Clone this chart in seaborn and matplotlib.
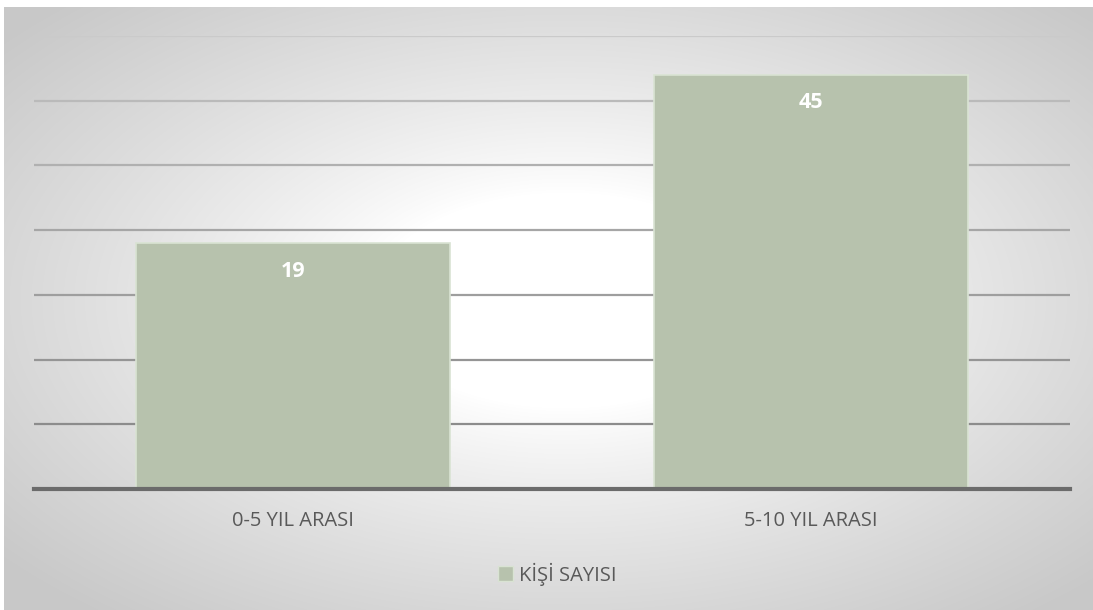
import numpy as np
import matplotlib
matplotlib.use("Agg")
import matplotlib.pyplot as plt
import seaborn as sns
import pandas as pd
from matplotlib.patches import Patch

# ---- data ----
categories = ["0-5 YIL ARASI", "5-10 YIL ARASI"]
values = [19, 45]
series_name = "KİŞİ SAYISI"

# ---- style ----
sns.set_theme(style="white")
plt.rcParams['font.family'] = ['Open Sans', 'DejaVu Sans']

W, H, DPI = 1093, 610, 100
fig = plt.figure(figsize=(W / DPI, H / DPI), dpi=DPI)

# radial gradient background
bg = fig.add_axes([0, 0, 1, 1], zorder=-10)
yy, xx = np.mgrid[0:H, 0:W]
cx, cy = 565, 300
d = np.sqrt(((xx - cx) / (W / 2)) ** 2 + ((yy - cy) / (H / 2)) ** 2) / np.sqrt(2)
t = np.clip((d - 0.25) / 0.7, 0, 1) ** 0.85
g = 1.0 - (1.0 - 0.785) * t
img = np.dstack([g, g, g])
img[:7, :, :] = 1.0
img[:, :4, :] = 1.0
bg.imshow(img, extent=(0, W, H, 0), aspect='auto', interpolation='bilinear')
bg.set_axis_off()

ax = fig.add_axes([34 / W, 1 - 489 / H, (1070 - 34) / W, (489 - 36) / H])
ax.set_facecolor('none')

df = pd.DataFrame({"cat": categories, "val": values})
bar_color = '#b7c2ad'
sns.barplot(data=df, x="cat", y="val", ax=ax, color=bar_color, width=0.606,
            edgecolor='#d9e3d3', linewidth=1.2, saturation=1, zorder=3)

ymin, ymax = -19, 51
ax.set_ylim(ymin, ymax)
ax.set_xlim(-0.5, 1.5)
# bars rise from the category axis
for p, v in zip(ax.patches, values):
    p.set_y(ymin)
    p.set_height(v - ymin)

ticks = list(range(ymin + 10, ymax + 1, 10))
ax.set_yticks(ticks)
ax.set_yticklabels([])
ax.tick_params(axis='y', length=0)
ax.tick_params(axis='x', length=0, pad=16, labelsize=14.5, labelcolor='#595959')
grid_cols = ['#8c8c8c', '#959595', '#9e9e9e', '#a6a6a6', '#b0b0b0', '#bababa', '#cacaca']
for yv, c in zip(ticks, grid_cols):
    ax.axhline(yv, color=c, lw=1.6, zorder=1)

for s in ['top', 'right', 'left']:
    ax.spines[s].set_visible(False)
ax.spines['bottom'].set_color('#6b6b6b')
ax.spines['bottom'].set_linewidth(3)
ax.spines['bottom'].set_zorder(4)
ax.set_xlabel('')
ax.set_ylabel('')

for i, v in enumerate(values):
    ax.annotate(str(v), xy=(i, v), xytext=(0, -28), textcoords='offset pixels',
                ha='center', va='center', color='white', fontsize=15.5,
                fontweight='bold', zorder=5)

handles = [Patch(facecolor=bar_color, edgecolor='#d9e3d3', label=series_name)]
fig.legend(handles=handles, loc='center', bbox_to_anchor=(557 / W, 1 - 574 / H),
           frameon=False, fontsize=14.5, handlelength=0.75, handleheight=0.75,
           handletextpad=0.3, labelcolor='#595959')

fig.savefig('out.png', dpi=DPI)
